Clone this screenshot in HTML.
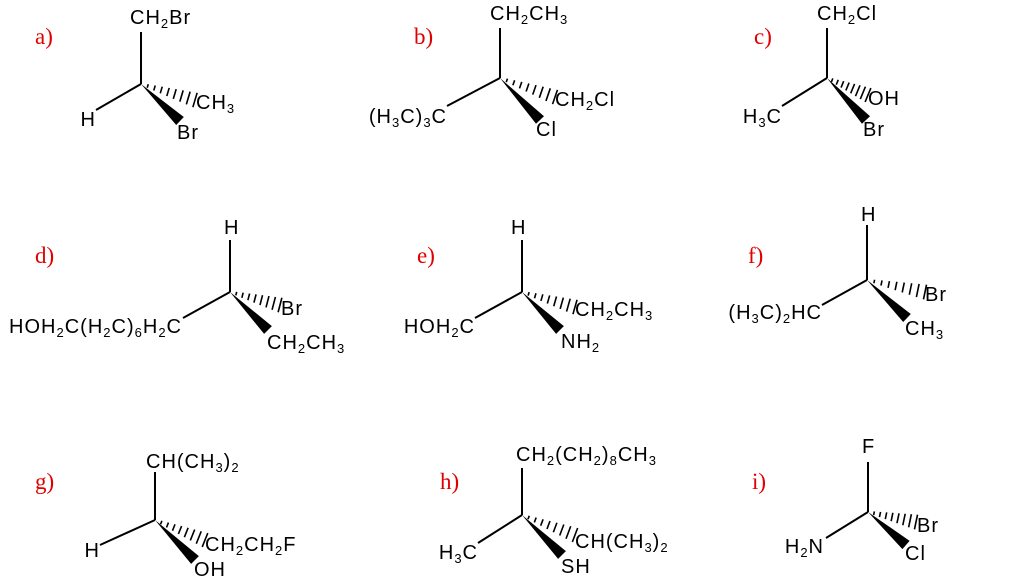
<!DOCTYPE html>
<html><head><meta charset="utf-8"><style>
html,body{margin:0;padding:0;background:#fff;width:1024px;height:584px;overflow:hidden}
svg text{font-family:"Liberation Sans",sans-serif;font-size:20px;fill:#000;letter-spacing:1px}
svg text.l{font-family:"Liberation Serif",serif;font-size:23px;fill:#e00000;letter-spacing:0}
svg text tspan.s{font-size:13px}
svg text.e{text-anchor:end}
</style></head><body>
<svg id="s" width="1024" height="584" xmlns="http://www.w3.org/2000/svg" stroke="#000" stroke-width="2">
<g stroke="none">
<text class="l" x="35" y="44">a)</text><text class="l" x="414" y="44">b)</text><text class="l" x="754" y="44">c)</text>
<text class="l" x="35" y="263">d)</text><text class="l" x="417" y="263">e)</text><text class="l" x="748" y="263">f)</text>
<text class="l" x="35" y="489">g)</text><text class="l" x="440" y="489">h)</text><text class="l" x="752" y="489">i)</text>

<text x="130" y="24">CH<tspan class="s" dy="4">2</tspan><tspan dy="-4">Br</tspan></text>
<text class="e" x="96" y="126">H</text>
<text x="196" y="109">CH<tspan class="s" dy="4">3</tspan></text>
<text x="177" y="139">Br</text>

<text x="490" y="20">CH<tspan class="s" dy="4">2</tspan><tspan dy="-4">CH</tspan><tspan class="s" dy="4">3</tspan></text>
<text class="e" x="447" y="123">(H<tspan class="s" dy="4">3</tspan><tspan dy="-4">C)</tspan><tspan class="s" dy="4">3</tspan><tspan dy="-4">C</tspan></text>
<text x="555" y="106">CH<tspan class="s" dy="4">2</tspan><tspan dy="-4">Cl</tspan></text>
<text x="536" y="136">Cl</text>

<text x="817" y="20">CH<tspan class="s" dy="4">2</tspan><tspan dy="-4">Cl</tspan></text>
<text class="e" x="782" y="123">H<tspan class="s" dy="4">3</tspan><tspan dy="-4">C</tspan></text>
<text x="868" y="105">OH</text>
<text x="863" y="136">Br</text>

<text x="224" y="234">H</text>
<text class="e" x="182" y="333">HOH<tspan class="s" dy="4">2</tspan><tspan dy="-4">C(H</tspan><tspan class="s" dy="4">2</tspan><tspan dy="-4">C)</tspan><tspan class="s" dy="4">6</tspan><tspan dy="-4">H</tspan><tspan class="s" dy="4">2</tspan><tspan dy="-4">C</tspan></text>
<text x="281" y="315">Br</text>
<text x="267" y="349">CH<tspan class="s" dy="4">2</tspan><tspan dy="-4">CH</tspan><tspan class="s" dy="4">3</tspan></text>

<text x="511" y="234">H</text>
<text class="e" x="475" y="333">HOH<tspan class="s" dy="4">2</tspan><tspan dy="-4">C</tspan></text>
<text x="575" y="316">CH<tspan class="s" dy="4">2</tspan><tspan dy="-4">CH</tspan><tspan class="s" dy="4">3</tspan></text>
<text x="561" y="348">NH<tspan class="s" dy="4">2</tspan></text>

<text x="861" y="221">H</text>
<text class="e" x="822" y="319">(H<tspan class="s" dy="4">3</tspan><tspan dy="-4">C)</tspan><tspan class="s" dy="4">2</tspan><tspan dy="-4">HC</tspan></text>
<text x="925" y="301">Br</text>
<text x="905" y="335">CH<tspan class="s" dy="4">3</tspan></text>

<text x="146" y="468">CH(CH<tspan class="s" dy="4">3</tspan><tspan dy="-4">)</tspan><tspan class="s" dy="4">2</tspan></text>
<text class="e" x="100" y="557">H</text>
<text x="205" y="551">CH<tspan class="s" dy="4">2</tspan><tspan dy="-4">CH</tspan><tspan class="s" dy="4">2</tspan><tspan dy="-4">F</tspan></text>
<text x="194" y="576">OH</text>

<text x="516" y="461">CH<tspan class="s" dy="4">2</tspan><tspan dy="-4">(CH</tspan><tspan class="s" dy="4">2</tspan><tspan dy="-4">)</tspan><tspan class="s" dy="4">8</tspan><tspan dy="-4">CH</tspan><tspan class="s" dy="4">3</tspan></text>
<text class="e" x="478" y="559">H<tspan class="s" dy="4">3</tspan><tspan dy="-4">C</tspan></text>
<text x="575" y="548">CH(CH<tspan class="s" dy="4">3</tspan><tspan dy="-4">)</tspan><tspan class="s" dy="4">2</tspan></text>
<text x="561" y="573">SH</text>

<text x="862" y="453">F</text>
<text class="e" x="824" y="553">H<tspan class="s" dy="4">2</tspan><tspan dy="-4">N</tspan></text>
<text x="917" y="532">Br</text>
<text x="905" y="560">Cl</text>
</g>
<g id="b"></g>
</svg>
<script>
var g=document.getElementById('b'),ns='http://www.w3.org/2000/svg';
function L(a,b,c,d,w){var e=document.createElementNS(ns,'line');e.setAttribute('x1',a);e.setAttribute('y1',b);e.setAttribute('x2',c);e.setAttribute('y2',d);if(w)e.setAttribute('stroke-width',w);g.appendChild(e);}
function W(x,y,X,Y){var dx=X-x,dy=Y-y,l=Math.hypot(dx,dy),nx=-dy/l*5.5,ny=dx/l*5.5;var p=document.createElementNS(ns,'polygon');p.setAttribute('points',x+','+y+' '+(X+nx)+','+(Y+ny)+' '+(X-nx)+','+(Y-ny));p.setAttribute('stroke','none');g.appendChild(p);}
function H(x,y,X,Y){var dx=X-x,dy=Y-y,l=Math.hypot(dx,dy),ux=-dy/l,uy=dx/l;for(var i=1;i<=8;i++){var t=i/8,cx=x+dx*t,cy=y+dy*t,h=1+6.5*t;L(cx-ux*h,cy-uy*h,cx+ux*h,cy+uy*h,1.6);}}
function M(c,up,left,hash,wedge){var x=c[0],y=c[1];L(x,y,up[0],up[1]);L(x,y,left[0],left[1]);H(x,y,hash[0],hash[1]);W(x,y,wedge[0],wedge[1]);}
M([141,84],[141,32],[96,110],[195,100],[180,121]);
M([500,78],[500,28],[447,106],[555,97],[540,120]);
M([827,78],[827,28],[782,106],[868,95],[866,120]);
M([230,292],[230,240],[183,318],[280,305],[268,330]);
M([522,292],[522,240],[475,318],[575,307],[560,330]);
M([867,280],[867,225],[822,305],[925,292],[907,318]);
M([155,520],[155,472],[100,545],[205,540],[195,560]);
M([522,515],[522,468],[478,543],[575,535],[562,555]);
M([868,512],[868,462],[826,538],[916,522],[906,545]);
</script>
</body></html>
